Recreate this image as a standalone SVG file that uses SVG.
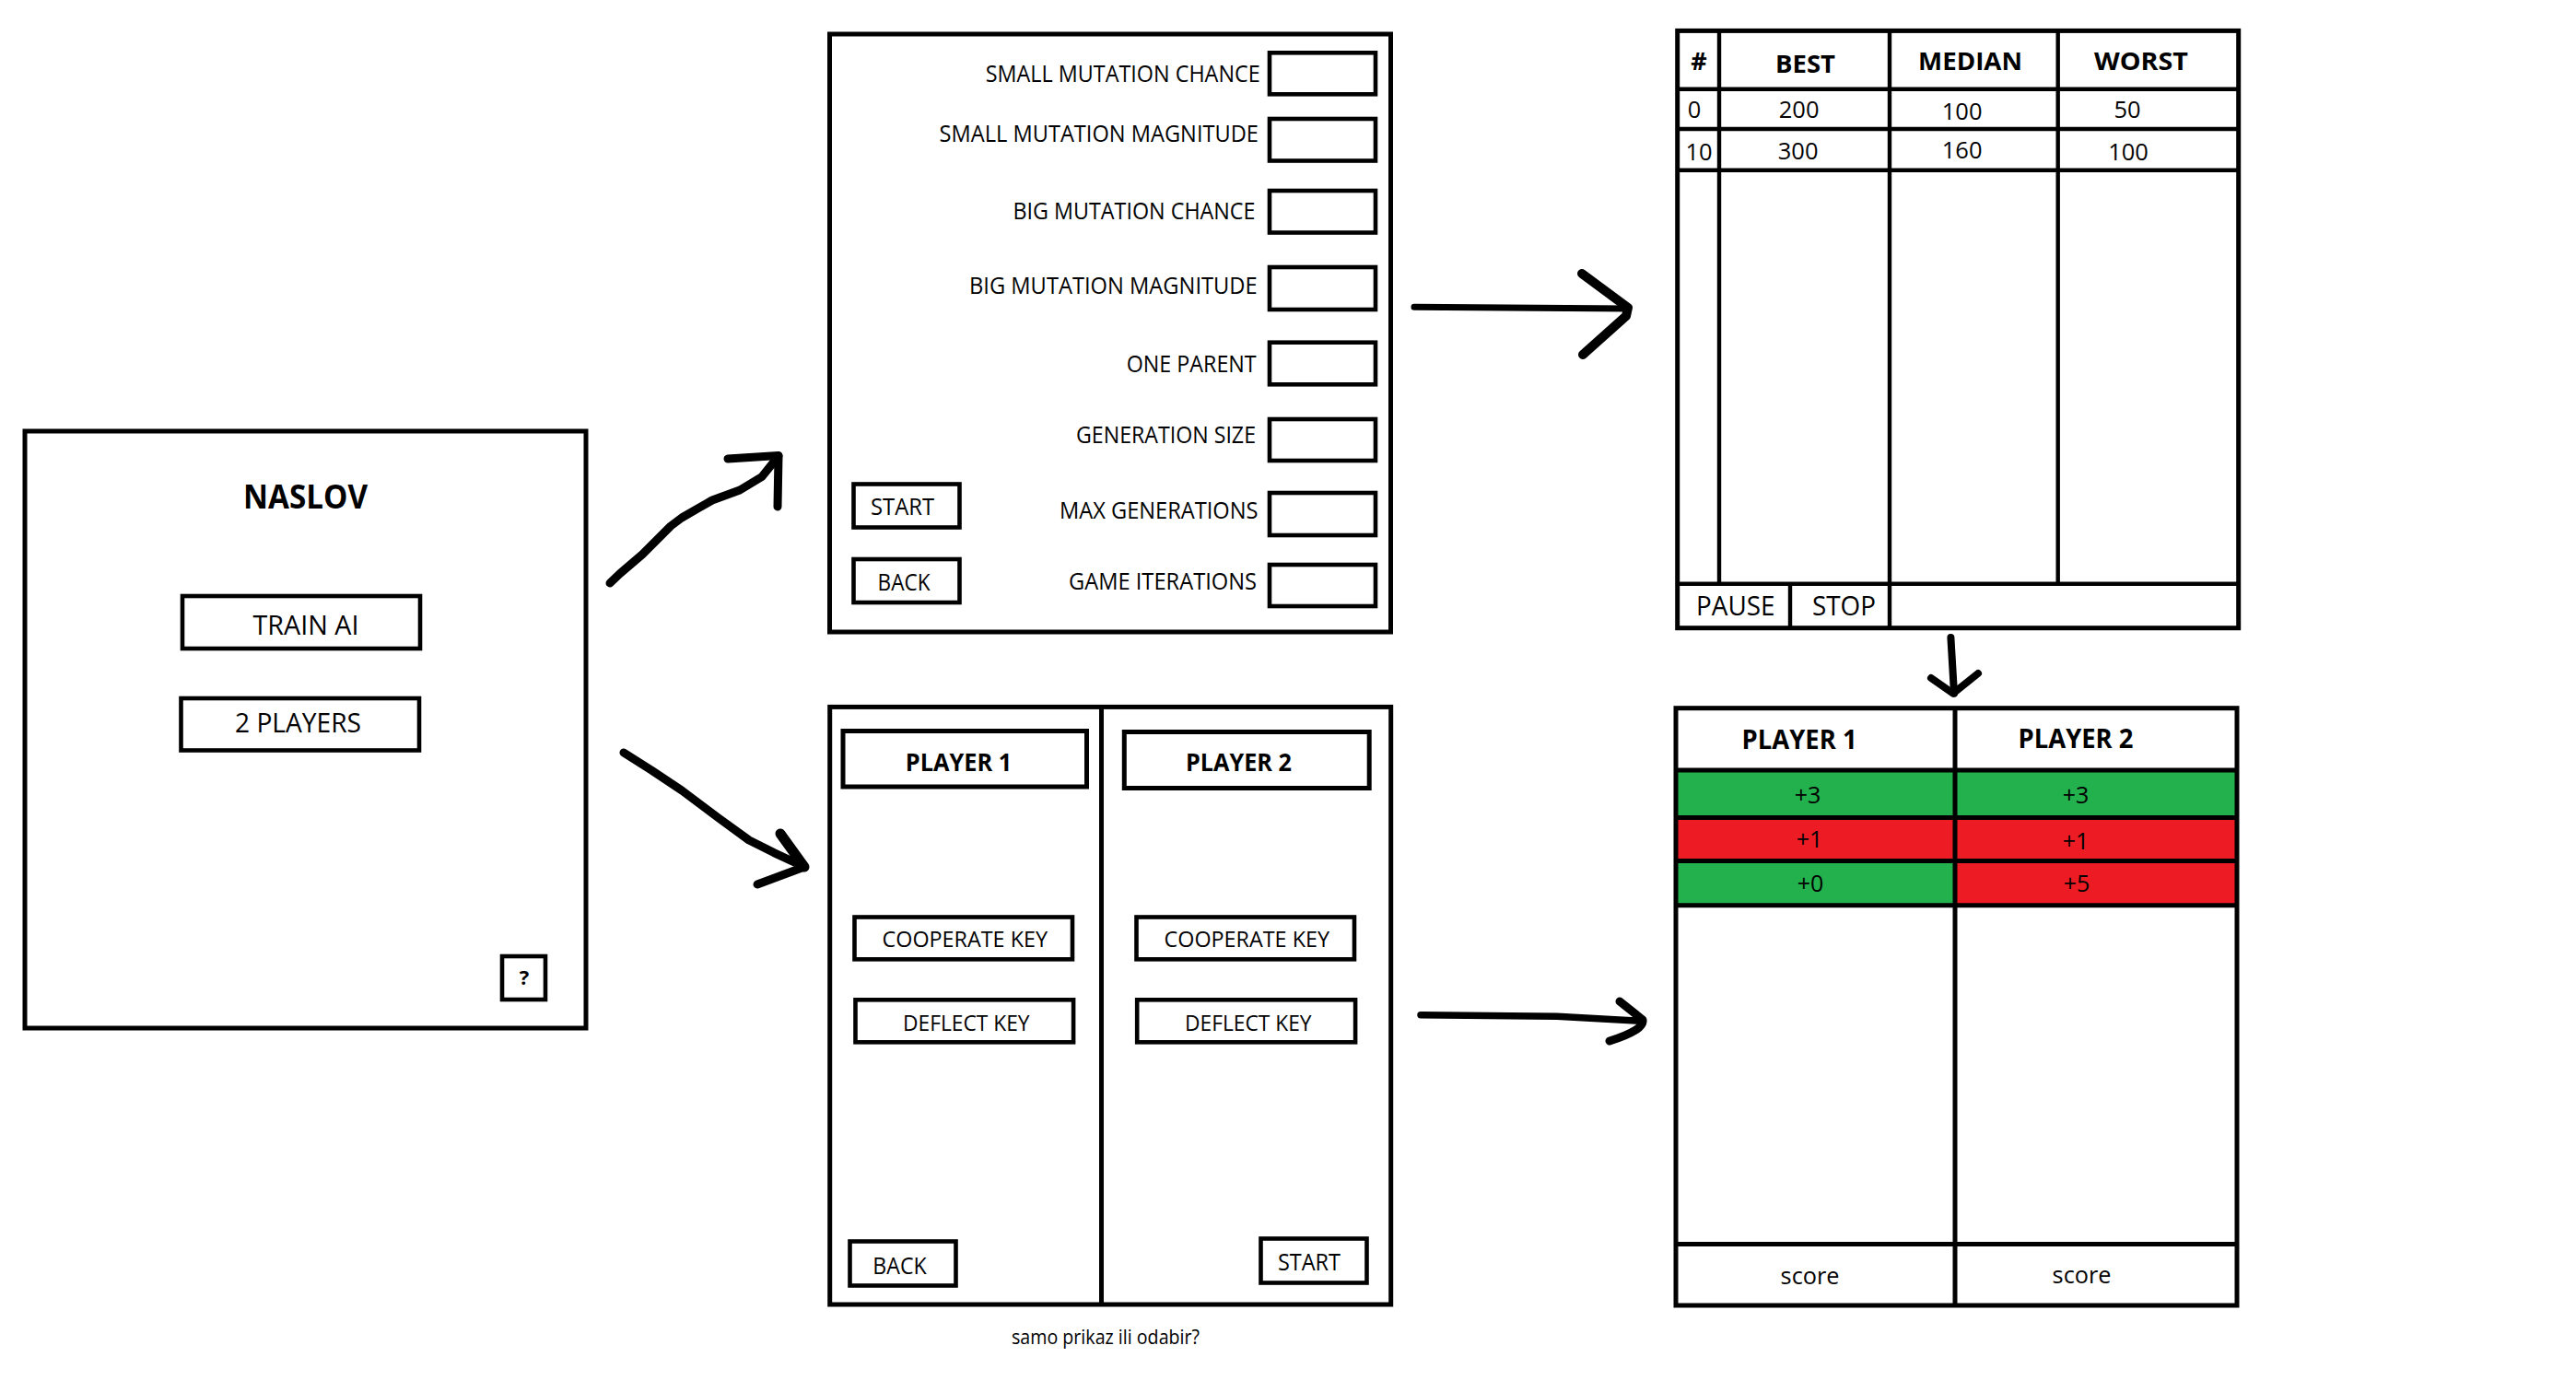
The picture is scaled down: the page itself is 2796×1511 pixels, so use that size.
<svg xmlns="http://www.w3.org/2000/svg" width="2796" height="1511" viewBox="0 0 2796 1511">
<style>
.frame{fill:none;stroke:#000;stroke-width:5}
.btn{fill:none;stroke:#000;stroke-width:4.6}
.ln{stroke:#000;stroke-width:4.4;fill:none}
.t{font-family:"Open Sans","Noto Sans","Liberation Sans",sans-serif;fill:#000}
.b{font-weight:bold}
.m{text-anchor:middle}
.arr{fill:none;stroke:#000;stroke-linecap:round;stroke-linejoin:round}
</style>
<rect x="0" y="0" width="2796" height="1511" fill="#fff"/>

<g id="menu">
<rect class="frame" x="27" y="468" width="609" height="648"/>
<text class="t b" x="264" y="552" font-size="35" textLength="135" lengthAdjust="spacingAndGlyphs">NASLOV</text>
<rect class="btn" x="198" y="647" width="258" height="57"/>
<text class="t" x="274.5" y="688.5" font-size="30" textLength="115" lengthAdjust="spacingAndGlyphs">TRAIN AI</text>
<rect class="btn" x="196.5" y="758" width="258.5" height="56.5"/>
<text class="t" x="255" y="795" font-size="30" textLength="137" lengthAdjust="spacingAndGlyphs">2 PLAYERS</text>
<rect class="btn" x="545" y="1038" width="47" height="47"/>
<text class="t b m" x="569" y="1069" font-size="22">?</text>
</g>

<g id="settings">
<rect class="frame" x="900.5" y="37" width="609" height="649"/>
<g class="btn">
<rect x="1378" y="57.3" width="115" height="45"/>
<rect x="1378" y="129" width="115" height="45.5"/>
<rect x="1378" y="207" width="115" height="45.5"/>
<rect x="1378" y="290" width="115" height="46"/>
<rect x="1378" y="371.7" width="115" height="45.6"/>
<rect x="1378" y="455" width="115" height="45"/>
<rect x="1378" y="535" width="115" height="46"/>
<rect x="1378" y="613" width="115" height="45"/>
</g>
<g class="t" font-size="26">
<text x="1069.7" y="88.5" textLength="298" lengthAdjust="spacingAndGlyphs">SMALL MUTATION CHANCE</text>
<text x="1019.5" y="154.4" textLength="346.5" lengthAdjust="spacingAndGlyphs">SMALL MUTATION MAGNITUDE</text>
<text x="1099.5" y="238" textLength="263" lengthAdjust="spacingAndGlyphs">BIG MUTATION CHANCE</text>
<text x="1052" y="319" textLength="312.7" lengthAdjust="spacingAndGlyphs">BIG MUTATION MAGNITUDE</text>
<text x="1222.7" y="403.8" textLength="141" lengthAdjust="spacingAndGlyphs">ONE PARENT</text>
<text x="1168" y="480.6" textLength="195" lengthAdjust="spacingAndGlyphs">GENERATION SIZE</text>
<text x="1150" y="563" textLength="215.5" lengthAdjust="spacingAndGlyphs">MAX GENERATIONS</text>
<text x="1160" y="640" textLength="204" lengthAdjust="spacingAndGlyphs">GAME ITERATIONS</text>
</g>
<rect class="btn" x="926.5" y="525.5" width="115" height="47"/>
<text class="t" x="945" y="559" font-size="26" textLength="69" lengthAdjust="spacingAndGlyphs">START</text>
<rect class="btn" x="926.5" y="607" width="115" height="47"/>
<text class="t" x="952.6" y="641" font-size="26" textLength="57" lengthAdjust="spacingAndGlyphs">BACK</text>
</g>

<g id="stats">
<rect class="frame" x="1820.7" y="33.4" width="609" height="648.3"/>
<path class="ln" d="M1866,33.4V633.7 M2051,33.4V681.7 M2233.7,33.4V633.7 M1820.7,96.8H2429.7 M1820.7,140H2429.7 M1820.7,184.8H2429.7 M1820.7,633.7H2429.7 M1943,633.7V681.7"/>
<g class="t b" font-size="27">
<text class="m" x="1844" y="76.4">#</text>
<text x="1927" y="78.5" textLength="65" lengthAdjust="spacingAndGlyphs">BEST</text>
<text x="2082" y="75.5" textLength="113" lengthAdjust="spacingAndGlyphs">MEDIAN</text>
<text x="2273" y="76.4" textLength="102" lengthAdjust="spacingAndGlyphs">WORST</text>
</g>
<g class="t m" font-size="25.5">
<text x="1839" y="128.4">0</text>
<text x="1952.6" y="128.4">200</text>
<text x="2129.6" y="129.7">100</text>
<text x="2309" y="128.4">50</text>
<text x="1844" y="174">10</text>
<text x="1951.6" y="173">300</text>
<text x="2129.6" y="171.8">160</text>
<text x="2310" y="174">100</text>
</g>
<text class="t" x="1841" y="668.4" font-size="29" textLength="85.5" lengthAdjust="spacingAndGlyphs">PAUSE</text>
<text class="t" x="1967" y="668.4" font-size="29" textLength="69" lengthAdjust="spacingAndGlyphs">STOP</text>
</g>

<g id="twoPlayers">
<rect class="frame" x="900.7" y="767.4" width="609" height="648.6"/>
<path class="ln" style="stroke-width:5" d="M1195.5,767.4V1416"/>
<rect class="frame" x="915" y="793.5" width="264.5" height="60.5"/>
<text class="t b" x="982.8" y="837" font-size="27.5" textLength="115.5" lengthAdjust="spacingAndGlyphs">PLAYER 1</text>
<rect class="frame" x="1220.3" y="794.5" width="265.9" height="61"/>
<text class="t b" x="1287" y="837" font-size="27.5" textLength="115" lengthAdjust="spacingAndGlyphs">PLAYER 2</text>
<rect class="btn" x="927.5" y="995.5" width="236.5" height="45.8"/>
<text class="t" x="957.5" y="1027.7" font-size="24.5" textLength="179.5" lengthAdjust="spacingAndGlyphs">COOPERATE KEY</text>
<rect class="btn" x="1233.5" y="995.5" width="236.5" height="45.8"/>
<text class="t" x="1263.5" y="1027.7" font-size="24.5" textLength="179.5" lengthAdjust="spacingAndGlyphs">COOPERATE KEY</text>
<rect class="btn" x="928.5" y="1085.3" width="236.6" height="46"/>
<text class="t" x="980" y="1118.6" font-size="24.5" textLength="137.5" lengthAdjust="spacingAndGlyphs">DEFLECT KEY</text>
<rect class="btn" x="1234.2" y="1085.3" width="236.9" height="46"/>
<text class="t" x="1286" y="1118.6" font-size="24.5" textLength="137.5" lengthAdjust="spacingAndGlyphs">DEFLECT KEY</text>
<rect class="btn" x="922.5" y="1347.5" width="115" height="48"/>
<text class="t" x="947.3" y="1382.5" font-size="26" textLength="58.4" lengthAdjust="spacingAndGlyphs">BACK</text>
<rect class="btn" x="1368.5" y="1344.5" width="115" height="48"/>
<text class="t" x="1387" y="1379" font-size="26" textLength="68" lengthAdjust="spacingAndGlyphs">START</text>
</g>

<g id="caption">
<text class="t" x="1098" y="1459" font-size="21" textLength="204" lengthAdjust="spacingAndGlyphs">samo prikaz ili odabir?</text>
</g>

<g id="results">
<rect x="1819" y="836" width="609" height="51.5" fill="#22B14C"/>
<rect x="1819" y="887.5" width="609" height="47" fill="#ED1C24"/>
<rect x="1819" y="934.5" width="303" height="48.3" fill="#22B14C"/>
<rect x="2122" y="934.5" width="306" height="48.3" fill="#ED1C24"/>
<path class="ln" style="stroke-width:5" d="M2122,768.7V1417 M1819,836H2428 M1819,887.5H2428 M1819,934.5H2428 M1819,982.8H2428 M1819,1350.4H2428"/>
<rect class="frame" x="1819" y="768.7" width="609" height="648.3"/>
<text class="t b" x="1890.6" y="813.3" font-size="29" textLength="125" lengthAdjust="spacingAndGlyphs">PLAYER 1</text>
<text class="t b" x="2190.5" y="812.3" font-size="29" textLength="125" lengthAdjust="spacingAndGlyphs">PLAYER 2</text>
<g class="t m" font-size="25">
<text x="1962" y="871.5">+3</text>
<text x="2253" y="872.4">+3</text>
<text x="1964" y="920">+1</text>
<text x="2253" y="922.4">+1</text>
<text x="1965" y="968.4">+0</text>
<text x="2254" y="968.4">+5</text>
</g>
<text class="t" x="1932.6" y="1394" font-size="26" textLength="64" lengthAdjust="spacingAndGlyphs">score</text>
<text class="t" x="2227.6" y="1392.5" font-size="26" textLength="64" lengthAdjust="spacingAndGlyphs">score</text>
</g>

<g id="connectors">
<path class="arr" stroke-width="9" d="M662,633 L673,622.5 L697,602 L728,571 L740,562 L773,543 L803,532 L827,517.5 L845,495"/>
<path class="arr" stroke-width="9" d="M790,498 L845,494.5 L844,550"/>
<path class="arr" stroke-width="9" d="M677,817 L707,836 L740,858 L780,888 L813,912 L840,925.6 L873,941"/>
<path class="arr" stroke-width="11" d="M847,905 L873,941"/>
<path class="arr" stroke-width="9" d="M873,941 L822,960"/>
<path class="arr" stroke-width="7" d="M1535,333.3 L1767,335"/>
<path class="arr" stroke-width="10" d="M1717,297 L1767,334 L1765,343 L1718,385"/>
<path class="arr" stroke-width="7.5" d="M1542,1101.7 L1690,1103.3 L1783,1108.3"/>
<path class="arr" stroke-width="9" d="M1758,1087 L1783,1107 Q1785,1118 1747,1130"/>
<path class="arr" stroke-width="8" d="M2117.4,692 L2121,752.7"/>
<path class="arr" stroke-width="8" d="M2096,736 L2120,752.7 L2147,731"/>
</g>
</svg>
